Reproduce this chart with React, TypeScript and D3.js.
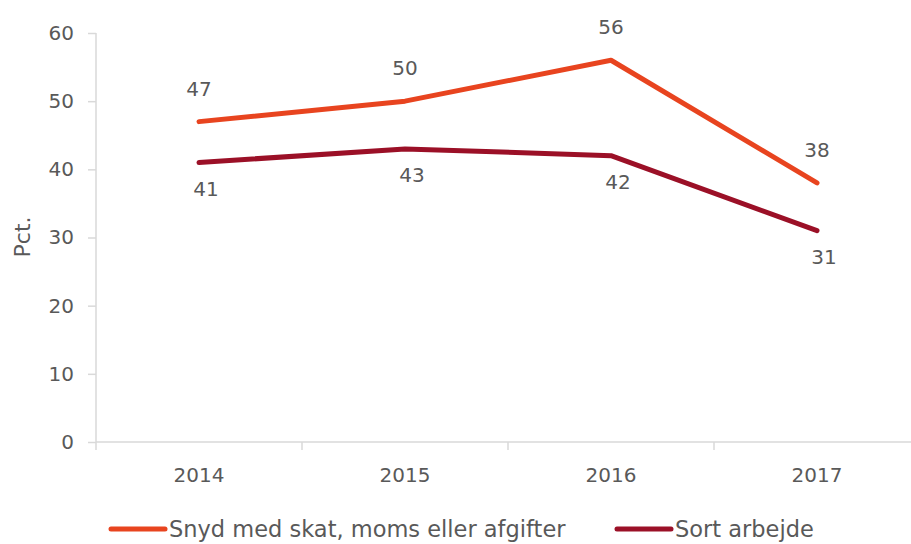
import { useRef, useEffect } from 'react';
import * as d3 from 'd3';

const years = ['2014', '2015', '2016', '2017'];
const snyd = [47, 50, 56, 38];
const sort = [41, 43, 42, 31];
const seriesNames = ['Snyd med skat, moms eller afgifter', 'Sort arbejde'];
const yTicks = [0, 10, 20, 30, 40, 50, 60];

const width = 911;
const height = 544;
const font = '"DejaVu Sans", sans-serif';
const textColor = '#595959';
const axisColor = '#d9d9d9';
const colors = ['#e8441f', '#9b1027'];

const App = () => {
  const ref = useRef<SVGSVGElement>(null);

  useEffect(() => {
    const svg = d3.select(ref.current);
    svg.selectAll('*').remove();

    // plot area runs past the right edge like the original
    const x = d3.scaleBand().domain(years).range([96, 920]);
    const y = d3.scaleLinear().domain([0, 60]).range([442, 33]);
    const cx = (d: string) => (x(d) as number) + x.bandwidth() / 2;

    // y axis
    const yAxis = svg.append('g').attr('transform', 'translate(96,0)')
      .call(d3.axisLeft(y).tickValues(yTicks).tickSize(8).tickPadding(14));
    yAxis.select('.domain').attr('stroke', axisColor).attr('stroke-width', 1.5)
      .attr('d', `M0,${y(60)}V${y(0)}`);
    yAxis.selectAll('.tick line').attr('stroke', axisColor).attr('stroke-width', 1.5);
    yAxis.selectAll('.tick text').attr('fill', textColor)
      .style('font-family', font).style('font-size', '20px');

    // x axis, ticks between categories
    const xAxis = svg.append('g').attr('transform', 'translate(0,442)');
    xAxis.append('line').attr('x1', 96).attr('x2', 920)
      .attr('stroke', axisColor).attr('stroke-width', 1.5);
    const edges = years.map(d => x(d) as number).concat([920]);
    xAxis.selectAll('line.tk').data(edges).join('line').attr('class', 'tk')
      .attr('x1', d => d).attr('x2', d => d).attr('y1', 0).attr('y2', 8)
      .attr('stroke', axisColor).attr('stroke-width', 1.5);
    xAxis.selectAll('text').data(years).join('text')
      .attr('x', d => cx(d)).attr('y', 40).attr('text-anchor', 'middle')
      .attr('fill', textColor).style('font-family', font).style('font-size', '20px')
      .text(d => d);

    // y title
    svg.append('text')
      .attr('transform', 'translate(30,237) rotate(-90)')
      .attr('text-anchor', 'middle').attr('fill', textColor)
      .style('font-family', font).style('font-size', '22px')
      .text('Pct.');

    const line = d3.line<number>()
      .x((_, i) => cx(years[i]))
      .y(d => y(d));

    [snyd, sort].forEach((vals, s) => {
      svg.append('path').attr('d', line(vals)).attr('fill', 'none')
        .attr('stroke', colors[s]).attr('stroke-width', 5)
        .attr('stroke-linejoin', 'round').attr('stroke-linecap', 'round');
      svg.selectAll(`text.lbl${s}`).data(vals).join('text').attr('class', `lbl${s}`)
        .attr('x', (_, i) => cx(years[i]) + (s === 0 ? 0 : 7))
        .attr('y', d => y(d) + (s === 0 ? -26 : 33))
        .attr('text-anchor', 'middle').attr('fill', textColor)
        .style('font-family', font).style('font-size', '20px')
        .text(d => d);
    });

    // legend, nudged up a little so the text is not clipped
    const legendX = [111, 617];
    seriesNames.forEach((name, s) => {
      const g = svg.append('g').attr('transform', `translate(${legendX[s]},529)`);
      g.append('line').attr('x1', 0).attr('x2', 54)
        .attr('stroke', colors[s]).attr('stroke-width', 5).attr('stroke-linecap', 'round');
      g.append('text').attr('x', 58).attr('y', 8).attr('fill', textColor)
        .style('font-family', font).style('font-size', '22.5px')
        .text(name);
    });
  }, []);

  return (
    <svg ref={ref} width={width} height={height}
      style={{ display: 'block', position: 'absolute', left: 0, top: 0 }} />
  );
};

export default App;
